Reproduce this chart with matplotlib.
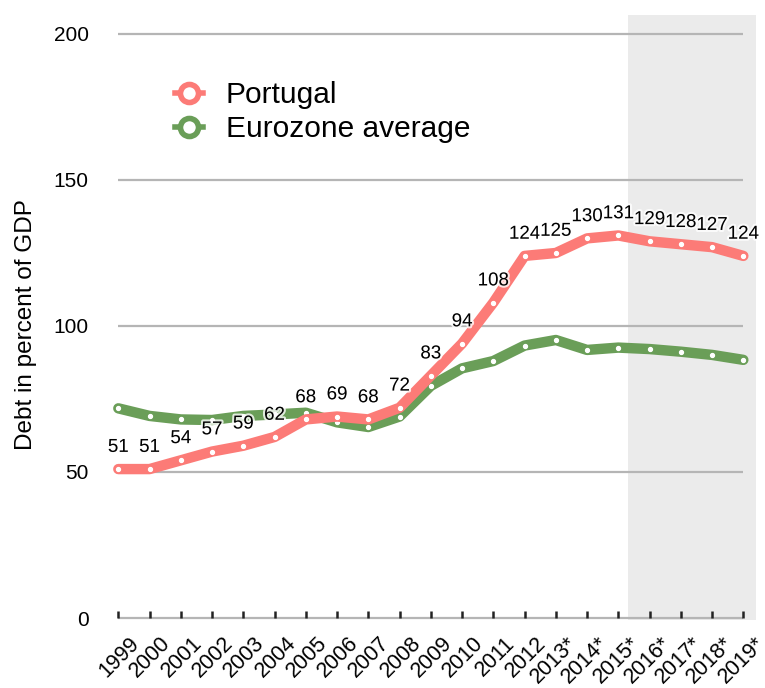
import matplotlib
matplotlib.use("Agg")
import matplotlib.pyplot as plt
from matplotlib.lines import Line2D
import matplotlib.patheffects as pe
import matplotlib.transforms as mtransforms

plt.rcParams["font.family"] = ["Liberation Sans", "DejaVu Sans"]

years = list(range(1999, 2020))
year_labels = ["1999", "2000", "2001", "2002", "2003", "2004", "2005", "2006", "2007",
               "2008", "2009", "2010", "2011", "2012", "2013*", "2014*", "2015*",
               "2016*", "2017*", "2018*", "2019*"]
portugal = [51, 51, 54, 57, 59, 62, 68, 69, 68, 72, 83, 94, 108, 124, 125, 130, 131,
            129, 128, 127, 124]
portugal_labels = [str(v) for v in portugal]
eurozone = [71.8, 69.2, 68.0, 67.8, 69.2, 69.7, 70.3, 67.0, 65.4, 69.0, 79.5, 85.5,
            88.0, 93.3, 95.2, 91.8, 92.6, 92.1, 91.2, 90.1, 88.4]
yticks = [0, 50, 100, 150, 200]

red = "#fc7b77"
green = "#6a9e58"

fig = plt.figure(figsize=(7.65, 6.88), dpi=100)
ax = fig.add_axes([102.7 / 765, 70 / 688, 656.25 / 765, 603 / 688])
ax.set_xlim(1998.5, 2019.5)
ax.set_ylim(0, 206.5)

# forecast shading
ax.axvspan(2015.3, 2019.4, ymin=-0.004, ymax=1, color="#ebebeb", zorder=0, lw=0,
           clip_on=False)

# gridlines
for t in yticks:
    ax.hlines(t, years[0], years[-1], color="#b5b5b5", lw=1.6, zorder=1, clip_on=False)

for s in ax.spines.values():
    s.set_visible(False)

ax.set_yticks(yticks)
ax.set_yticklabels([str(t) for t in yticks], fontsize=15)
ax.tick_params(axis="y", length=0, pad=10)

ax.set_xticks(years)
ax.set_xticklabels([])
ax.tick_params(axis="x", direction="in", length=5, width=1.8, color="#222222", bottom=True)

offset = mtransforms.ScaledTranslation(13 / 72, 0, fig.dpi_scale_trans)
for x, lab in zip(years, year_labels):
    ax.text(x, -7.6, lab, rotation=45, ha="right", va="center", rotation_mode="anchor",
            fontsize=15.5, transform=ax.transData + offset, clip_on=False)

ax.plot(years, eurozone, color=green, lw=7.5, solid_capstyle="round",
        solid_joinstyle="round", zorder=3)
ax.plot(years, eurozone, "o", color="white", ms=2.8, zorder=4)
ax.plot(years, portugal, color=red, lw=7.5, solid_capstyle="round",
        solid_joinstyle="round", zorder=5)
ax.plot(years, portugal, "o", color="white", ms=2.8, zorder=6)

for x, v, lab in zip(years, portugal, portugal_labels):
    ax.annotate(lab, (x, v), xytext=(0, 9.5), textcoords="offset points",
                ha="center", va="bottom", fontsize=13.5, zorder=7,
                path_effects=[pe.withStroke(linewidth=3, foreground="white", alpha=0.8)])

ax.set_ylabel("Debt in percent of GDP", fontsize=17.5)
ax.yaxis.set_label_coords(-0.1, 0.486)

handles = [
    Line2D([0], [0], color=red, lw=4, marker="o", ms=13, mfc="white", mec=red, mew=4),
    Line2D([0], [0], color=green, lw=4, marker="o", ms=13, mfc="white", mec=green, mew=4),
]
fig.legend(handles, ["Portugal", "Eurozone average"], loc="upper left",
           bbox_to_anchor=(175 / 765, 1 - 81 / 688), frameon=False, fontsize=21.5,
           handlelength=0.95, handletextpad=0.75, labelspacing=0.2, borderpad=0,
           borderaxespad=0)

fig.savefig("out.png", dpi=100)
